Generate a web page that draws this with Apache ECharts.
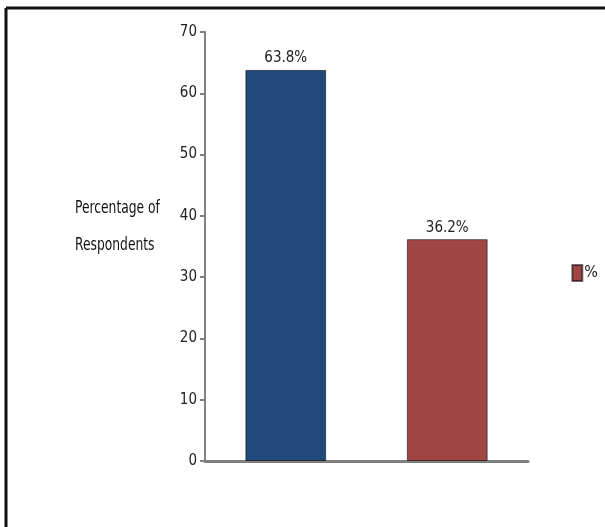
<!DOCTYPE html>
<html>
<head>
<meta charset="utf-8">
<script src="https://cdn.jsdelivr.net/npm/echarts@6/dist/echarts.min.js"></script>
<style>
  html, body { margin: 0; padding: 0; background: #fff; }
  #chart { width: 605px; height: 527px; }
</style>
</head>
<body>
<div id="chart"></div>
<script>
const categories = ['Yes', 'No']
const values = [63.8, 36.2]
const barColors = ['#214a7c', '#a04644']
const yTicks = [0, 10, 20, 30, 40, 50, 60, 70]

const font = "'DejaVu Sans Condensed', 'Liberation Sans Narrow', 'Arial Narrow', sans-serif"

let myChart = echarts.init(document.getElementById('chart'))

myChart.setOption({
  backgroundColor: '#fff',
  animation: false,
  textStyle: { fontFamily: font },
  graphic: [
    // frame: only top and left edges are visible
    { type: 'line', shape: { x1: 6, y1: 8, x2: 605, y2: 8 }, style: { stroke: '#111', lineWidth: 3 } },
    { type: 'line', shape: { x1: 6, y1: 8, x2: 6, y2: 527 }, style: { stroke: '#111', lineWidth: 3 } },
    {
      type: 'text',
      x: 75,
      y: 190,
      scaleX: 0.76,
      style: {
        text: 'Percentage of\nRespondents',
        font: '18px ' + font,
        fill: '#111',
        lineHeight: 37
      }
    }
  ],
  grid: {
    left: 205,
    right: 77,
    top: 32,
    bottom: 66
  },
  legend: {
    data: ['%'],
    right: 2,
    top: 259,
    icon: 'rect',
    itemWidth: 10,
    itemHeight: 16,
    itemGap: 4,
    textStyle: { color: '#222', fontSize: 16, fontFamily: font, padding: [0, 0, 0, -3] }
  },
  xAxis: {
    type: 'category',
    data: categories,
    axisLabel: { show: false },
    axisTick: { show: false },
    axisLine: { lineStyle: { color: '#7f7f7f', width: 3 } }
  },
  yAxis: {
    type: 'value',
    min: yTicks[0],
    max: yTicks[yTicks.length - 1],
    interval: 10,
    axisLabel: { color: '#222', fontSize: 15, fontFamily: font, margin: 8 },
    axisTick: { show: true, length: 5, lineStyle: { color: '#7f7f7f', width: 2 } },
    axisLine: { show: true, lineStyle: { color: '#7f7f7f', width: 2 } },
    splitLine: { show: false }
  },
  series: [
    {
      type: 'bar',
      name: '%',
      barWidth: '50%',
      itemStyle: {
        color: barColors[1],
        borderColor: 'rgba(0,0,0,0.55)',
        borderWidth: 1
      },
      label: {
        show: true,
        position: 'top',
        distance: 4,
        color: '#222',
        fontSize: 15,
        fontFamily: font,
        formatter: '{c}%'
      },
      data: values.map((v, i) => ({ value: v, itemStyle: { color: barColors[i] } }))
    }
  ]
})

window.addEventListener('resize', () => {
  myChart.resize()
})
</script>
</body>
</html>
